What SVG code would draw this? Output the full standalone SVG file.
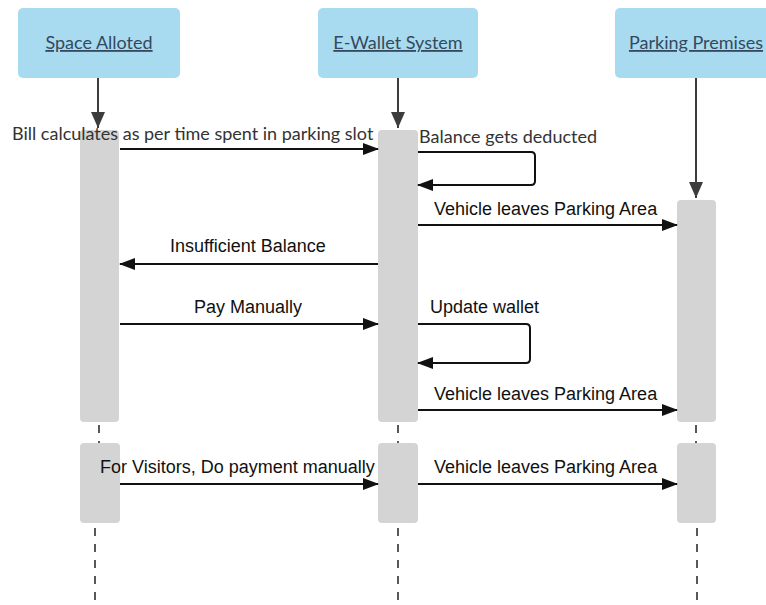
<svg xmlns="http://www.w3.org/2000/svg" width="766" height="605" viewBox="0 0 766 605">
  <defs>
    <marker id="head" markerWidth="16" markerHeight="12" refX="15" refY="6" orient="auto" markerUnits="userSpaceOnUse">
      <path d="M0,0 L16,6 L0,12 Z" fill="#111"/>
    </marker>
    <marker id="headGrey" markerWidth="16" markerHeight="14" refX="16" refY="7" orient="auto" markerUnits="userSpaceOnUse">
      <path d="M0,0 L16,7 L0,14 Z" fill="#3c3c3c"/>
    </marker>
    <style>
      .hdr { fill: #a8dbef; }
      .hdrText { font-family: "Lato", "Liberation Sans", sans-serif; font-size: 18px; fill: #34495e; text-anchor: middle; text-decoration: underline; }
      .bar { fill: #d4d4d4; }
      .life { stroke: #3c3c3c; stroke-width: 2; fill: none; }
      .dash { stroke: #222; stroke-width: 1.5; stroke-dasharray: 8 8; fill: none; }
      .msg { stroke: #111; stroke-width: 2; fill: none; marker-end: url(#head); }
      .loop { stroke: #111; stroke-width: 2; fill: none; marker-end: url(#head); }
      .lbl { font-family: "Liberation Sans", Arial, sans-serif; font-size: 18px; fill: #111; }
      .lblSans { font-family: "Lato", "Liberation Sans", sans-serif; font-size: 18px; fill: #333; }
    </style>
  </defs>
  <rect width="766" height="605" fill="#ffffff"/>

  <!-- participants -->
  <g id="space-alloted">
    <rect class="hdr" x="18" y="8" width="162" height="70" rx="5"/>
    <text class="hdrText" x="99" y="49">Space Alloted</text>
  </g>
  <g id="e-wallet">
    <rect class="hdr" x="318" y="8" width="160" height="70" rx="5"/>
    <text class="hdrText" x="398" y="49">E-Wallet System</text>
  </g>
  <g id="parking-premises">
    <rect class="hdr" x="615" y="8" width="160" height="70" rx="5"/>
    <text class="hdrText" x="696" y="49">Parking Premises</text>
  </g>

  <!-- activation bars -->
  <g id="space-alloted-act1"><rect class="bar" x="80" y="130" width="39" height="292" rx="4"/></g>
  <g id="e-wallet-act1"><rect class="bar" x="378" y="130" width="40" height="292" rx="4"/></g>
  <g id="parking-act1"><rect class="bar" x="677" y="200" width="39" height="222" rx="4"/></g>
  <g id="space-alloted-act2"><rect class="bar" x="80" y="443" width="40" height="80" rx="4"/></g>
  <g id="e-wallet-act2"><rect class="bar" x="378" y="443" width="40" height="80" rx="4"/></g>
  <g id="parking-act2"><rect class="bar" x="677" y="443" width="39" height="80" rx="4"/></g>

  <!-- connectors -->
  <g id="connectors">
    <!-- lifelines -->
    <line class="life" x1="98" y1="78" x2="98" y2="128" marker-end="url(#headGrey)"/>
    <line class="life" x1="398" y1="78" x2="398" y2="128" marker-end="url(#headGrey)"/>
    <line class="life" x1="696" y1="78" x2="696" y2="198" marker-end="url(#headGrey)"/>
    <line class="dash" x1="99" y1="425" x2="99" y2="443"/>
    <line class="dash" x1="398" y1="425" x2="398" y2="443"/>
    <line class="dash" x1="696" y1="425" x2="696" y2="443"/>
    <line class="dash" x1="95" y1="528" x2="95" y2="605"/>
    <line class="dash" x1="398" y1="528" x2="398" y2="605"/>
    <line class="dash" x1="697" y1="528" x2="697" y2="605"/>

    <!-- messages -->
    <line class="msg" x1="120" y1="149" x2="378" y2="149"/>
    <path class="loop" d="M418,152 H531 Q535,152 535,156 V181 Q535,185 531,185 H418"/>
    <line class="msg" x1="418" y1="225" x2="677" y2="225"/>
    <line class="msg" x1="378" y1="264" x2="120" y2="264"/>
    <line class="msg" x1="120" y1="324" x2="378" y2="324"/>
    <path class="loop" d="M418,324 H526 Q530,324 530,328 V359 Q530,363 526,363 H418"/>
    <line class="msg" x1="418" y1="410" x2="677" y2="410"/>
    <line class="msg" x1="120" y1="484" x2="378" y2="484"/>
    <line class="msg" x1="418" y1="484" x2="677" y2="484"/>
  </g>

  <!-- message labels -->
  <g id="labels">
    <text class="lblSans" x="12" y="140">Bill calculates as per time spent in parking slot</text>
    <text class="lblSans" x="419" y="143">Balance gets deducted</text>
    <text class="lbl" x="434" y="215">Vehicle leaves Parking Area</text>
    <text class="lbl" x="170" y="252">Insufficient Balance</text>
    <text class="lbl" x="194" y="313">Pay Manually</text>
    <text class="lbl" x="430" y="313">Update wallet</text>
    <text class="lbl" x="434" y="400">Vehicle leaves Parking Area</text>
    <text class="lbl" x="100" y="473">For Visitors, Do payment manually</text>
    <text class="lbl" x="434" y="473">Vehicle leaves Parking Area</text>
  </g>
</svg>
